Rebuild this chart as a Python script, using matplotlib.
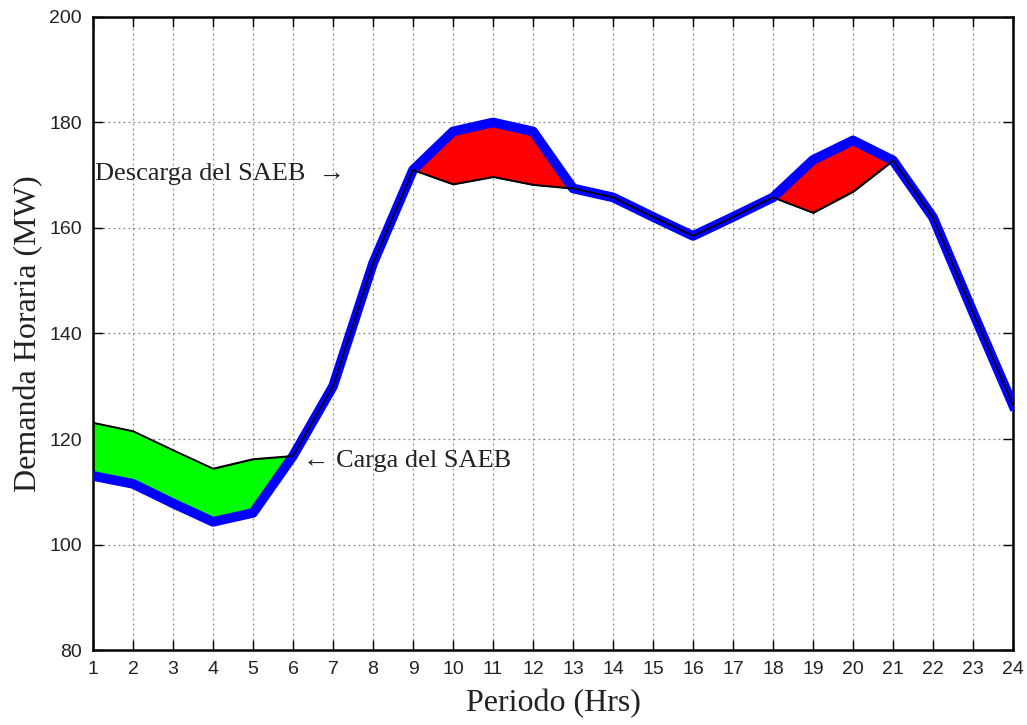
import numpy as np
import matplotlib
matplotlib.use("Agg")
import matplotlib.pyplot as plt

# ---------------------------------------
# Hourly demand (MW)
# ---------------------------------------
hours = list(range(1, 25))

# demand without storage (thin black line)
base_demand = [123.1, 121.5, 117.9, 114.4, 116.2, 116.8, 130.0, 153.3,
               171.0, 168.3, 169.7, 168.2, 167.5, 165.8, 162.1, 158.5,
               162.1, 165.8, 162.9, 166.9, 172.8, 162.0, 144.0, 126.4]

# demand with storage (thick blue line)
net_demand = [113.0, 111.5, 107.8, 104.3, 106.0, 116.8, 130.0, 153.3,
              171.0, 178.3, 180.0, 178.3, 167.5, 165.8, 162.1, 158.5,
              162.1, 165.8, 172.9, 176.6, 172.8, 162.0, 144.0, 126.4]

charge_hours = (1, 6)
discharge_windows = [(9, 13), (18, 21)]

x_ticks = list(range(1, 25))
y_ticks = [80, 100, 120, 140, 160, 180, 200]

serif = ["Liberation Serif", "DejaVu Serif"]
sans = ["Liberation Sans", "DejaVu Sans"]

h = np.array(hours)
base = np.array(base_demand)
net = np.array(net_demand)

fig = plt.figure(figsize=(10.27, 7.25), dpi=100)
ax = fig.add_axes([0.0906, 0.1034, 0.8958, 0.8732])

# charging area (green)
m = (h >= charge_hours[0]) & (h <= charge_hours[1])
ax.fill_between(h[m], net[m], base[m], facecolor="#00ff00",
                edgecolor="black", linewidth=1.0, zorder=2)

# discharging areas (red)
for a, b in discharge_windows:
    m = (h >= a) & (h <= b)
    ax.fill_between(h[m], base[m], net[m], facecolor="#ff0000",
                    edgecolor="black", linewidth=1.0, zorder=2)

ax.plot(h, net, color="#0000ff", linewidth=7, solid_joinstyle="round",
        zorder=3)
ax.plot(h, base, color="black", linewidth=1.2, zorder=4)

ax.set_xlim(1, 24)
ax.set_ylim(80, 200)
ax.set_xticks(x_ticks)
ax.set_yticks(y_ticks)
ax.tick_params(direction="in", length=7, width=1, top=True, right=True,
               labelsize=14, pad=8)
for lab in ax.get_xticklabels() + ax.get_yticklabels():
    lab.set_family(sans)
    lab.set_color("#222222")
for s in ax.spines.values():
    s.set_linewidth(1.8)

ax.grid(True, linestyle=(0, (1.5, 2.5)), color="#888888", linewidth=0.9)
ax.set_axisbelow(True)

ax.set_xlabel("Periodo (Hrs)", family=serif, fontsize=23, labelpad=8,
              color="#222222")
ax.set_ylabel("Demanda Horaria (MW)", family=serif, fontsize=23,
              labelpad=4, color="#222222")

ax.text(1.05, 170.2, "Descarga del SAEB  \u2192", family=serif, fontsize=19,
        va="center", ha="left", color="#222222")
ax.text(6.25, 115.8, "\u2190 Carga del SAEB", family=serif, fontsize=19,
        va="center", ha="left", color="#222222")

fig.savefig("out.png", dpi=100)
plt.close(fig)
